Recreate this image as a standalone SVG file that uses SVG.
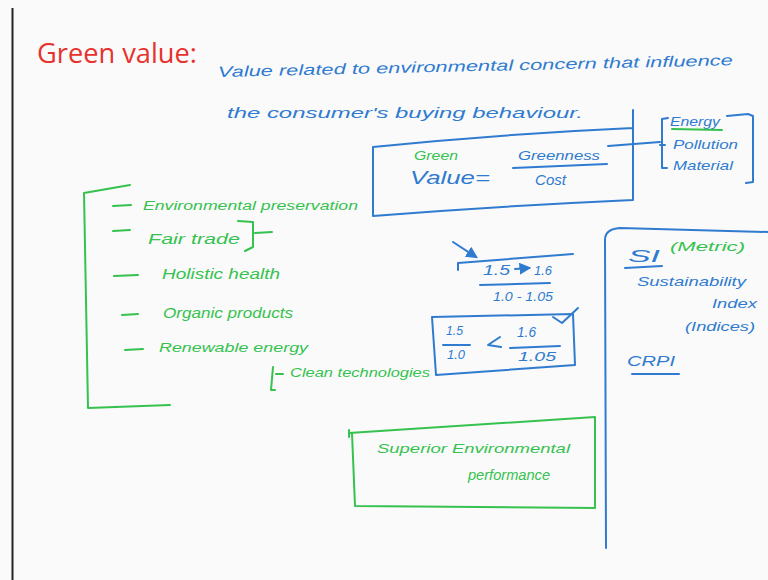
<svg xmlns="http://www.w3.org/2000/svg" width="768" height="580" viewBox="0 0 768 580">
  <style>
    .ink { fill: none; stroke-width: 2; stroke-linecap: round; stroke-linejoin: round; }
    .b { stroke: #2f7bd0; }
    .g { stroke: #35c24f; }
    .hw { font-family: "Liberation Sans", "DejaVu Sans", sans-serif; font-style: italic; }
    .tb { fill: #2f7bd0; }
    .tg { fill: #35c24f; }
  </style>
  <defs>
    <marker id="tip" viewBox="0 0 10 10" refX="8" refY="5" markerWidth="6" markerHeight="6" orient="auto">
      <path d="M0,0 L10,5 L0,10 z" fill="#2f7bd0"/>
    </marker>
  </defs>

  <rect width="768" height="580" fill="#fafafa"/>
  <line x1="12.5" y1="8" x2="12.5" y2="580" stroke="#222" stroke-width="2"/>

  <!-- heading and definition -->
  <g id="heading">
    <text x="37" y="63" font-family="Open Sans, Liberation Sans, sans-serif" font-size="28" fill="#e8322d" textLength="160" lengthAdjust="spacingAndGlyphs">Green value:</text>
    <text class="hw tb" x="218" y="77" font-size="15" textLength="515" lengthAdjust="spacingAndGlyphs" transform="rotate(-1.3 218 77)">Value related to environmental concern that influence</text>
    <text class="hw tb" x="227" y="118" font-size="15" textLength="356" lengthAdjust="spacingAndGlyphs">the consumer's buying behaviour.</text>
  </g>

  <!-- green value formula box -->
  <g id="formula">
    <path class="ink b" d="M373,216 L373,147 Q500,134 633,128 M633,110 L633,200 Q500,206 373,216"/>
    <text class="hw tg" x="414" y="160" font-size="12" textLength="44" lengthAdjust="spacingAndGlyphs">Green</text>
    <text class="hw tb" x="410" y="184" font-size="19" textLength="80" lengthAdjust="spacingAndGlyphs">Value=</text>
    <text class="hw tb" x="518" y="160" font-size="13" textLength="82" lengthAdjust="spacingAndGlyphs">Greenness</text>
    <path class="ink b" d="M513,168 L607,164"/>
    <text class="hw tb" x="535" y="185" font-size="14" textLength="31" lengthAdjust="spacingAndGlyphs">Cost</text>
    <path class="ink b" d="M608,146 L660,142"/>
  </g>

  <!-- greenness components -->
  <g id="components">
    <path class="ink b" d="M668,118 L662,119 L662,168 L667,168 M660,145 L665,145 M727,116 L748,114 L753,116 L753,182 L746,183"/>
    <text class="hw tb" x="670" y="126" font-size="12" textLength="50" lengthAdjust="spacingAndGlyphs">Energy</text>
    <path class="ink g" d="M672,129 L722,130"/>
    <text class="hw tb" x="673" y="149" font-size="13" textLength="65" lengthAdjust="spacingAndGlyphs">Pollution</text>
    <text class="hw tb" x="673" y="170" font-size="13" textLength="60" lengthAdjust="spacingAndGlyphs">Material</text>
  </g>

  <!-- green attribute list -->
  <g id="attributes">
    <path class="ink g" d="M130,185 L84,193 L88,408 L170,405"/>
    <path class="ink g" d="M113,206 L131,205 M113,231 L130,230 M114,276 L138,275 M122,315 L138,314 M125,350 L143,349"/>
    <text class="hw tg" x="143" y="210" font-size="13" textLength="215" lengthAdjust="spacingAndGlyphs">Environmental preservation</text>
    <text class="hw tg" x="148" y="244" font-size="15" textLength="92" lengthAdjust="spacingAndGlyphs">Fair trade</text>
    <path class="ink g" d="M238,221 L253,222 L253,247 L245,251 M255,233 L272,232"/>
    <text class="hw tg" x="162" y="279" font-size="14" textLength="118" lengthAdjust="spacingAndGlyphs">Holistic health</text>
    <text class="hw tg" x="163" y="318" font-size="14" textLength="130" lengthAdjust="spacingAndGlyphs">Organic products</text>
    <text class="hw tg" x="159" y="352" font-size="13" textLength="149" lengthAdjust="spacingAndGlyphs">Renewable energy</text>
    <path class="ink g" d="M273,367 L271,390 L275,390 M276,374 L283,374"/>
    <text class="hw tg" x="290" y="377" font-size="12" textLength="140" lengthAdjust="spacingAndGlyphs">Clean technologies</text>
  </g>

  <!-- numeric comparison -->
  <g id="comparison">
    <path class="ink b" d="M453,242 L476,257" marker-end="url(#tip)"/>
    <path class="ink b" d="M458,270 L458,263 L573,254"/>
    <text class="hw tb" x="483" y="275" font-size="14" textLength="27" lengthAdjust="spacingAndGlyphs">1.5</text>
    <path class="ink b" d="M515,269 L529,268" marker-end="url(#tip)"/>
    <text class="hw tb" x="534" y="275" font-size="13" textLength="18" lengthAdjust="spacingAndGlyphs">1.6</text>
    <path class="ink b" d="M480,285 L550,283"/>
    <text class="hw tb" x="493" y="301" font-size="12" textLength="60" lengthAdjust="spacingAndGlyphs">1.0 - 1.05</text>
    <path class="ink b" d="M432,317 L573,314 L575,365 L436,375 Z"/>
    <path class="ink b" d="M553,317 L562,323 L578,308"/>
    <text class="hw tb" x="446" y="335" font-size="13" textLength="17" lengthAdjust="spacingAndGlyphs">1.5</text>
    <path class="ink b" d="M443,345 L470,345"/>
    <text class="hw tb" x="447" y="359" font-size="13" textLength="18" lengthAdjust="spacingAndGlyphs">1.0</text>
    <path class="ink b" d="M500,337 L488,345 L501,347"/>
    <text class="hw tb" x="517" y="337" font-size="14" textLength="19" lengthAdjust="spacingAndGlyphs">1.6</text>
    <path class="ink b" d="M510,348 L560,346"/>
    <text class="hw tb" x="518" y="361" font-size="13" textLength="38" lengthAdjust="spacingAndGlyphs">1.05</text>
  </g>

  <!-- sustainability index panel -->
  <g id="indices">
    <path class="ink b" d="M606,548 L605,240 Q605,229 620,228 L768,232"/>
    <text class="hw tb" x="628" y="262" font-size="17" textLength="32" lengthAdjust="spacingAndGlyphs">SI</text>
    <path class="ink b" d="M625,268 L662,266"/>
    <text class="hw tg" x="670" y="251" font-size="13" textLength="75" lengthAdjust="spacingAndGlyphs">(Metric)</text>
    <text class="hw tb" x="637" y="286" font-size="13" textLength="109" lengthAdjust="spacingAndGlyphs">Sustainability</text>
    <text class="hw tb" x="712" y="308" font-size="13" textLength="45" lengthAdjust="spacingAndGlyphs">Index</text>
    <text class="hw tb" x="685" y="331" font-size="13" textLength="70" lengthAdjust="spacingAndGlyphs">(Indices)</text>
    <text class="hw tb" x="627" y="366" font-size="15" textLength="48" lengthAdjust="spacingAndGlyphs">CRPI</text>
    <path class="ink b" d="M632,374 L679,374"/>
  </g>

  <!-- performance box -->
  <g id="performance">
    <path class="ink g" d="M349,430 L349,437 M349,433 L595,417 L595,508 L355,506 L352,433"/>
    <text class="hw tg" x="377" y="453" font-size="13" textLength="193" lengthAdjust="spacingAndGlyphs">Superior Environmental</text>
    <text class="hw tg" x="468" y="480" font-size="14" textLength="82" lengthAdjust="spacingAndGlyphs">performance</text>
  </g>
</svg>
